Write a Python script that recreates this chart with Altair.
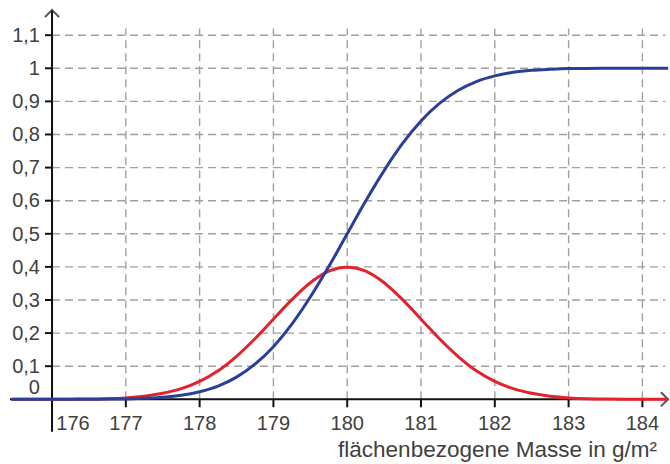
import altair as alt
import pandas as pd

# ---- data ----
x_vals = [175.45, 175.75, 176.0, 176.25, 176.5, 176.75, 177.0, 177.25, 177.5, 177.75,
          178.0, 178.25, 178.5, 178.75, 179.0, 179.25, 179.5, 179.75, 180.0,
          180.25, 180.5, 180.75, 181.0, 181.25, 181.5, 181.75, 182.0, 182.25,
          182.5, 182.75, 183.0, 183.25, 183.5, 183.75, 184.0, 184.35]
pdf_vals = [0.0, 0.0, 0.0001, 0.0004, 0.0009, 0.0017, 0.004, 0.009, 0.018, 0.032,
            0.054, 0.086, 0.130, 0.183, 0.242, 0.301, 0.352, 0.387, 0.399,
            0.387, 0.352, 0.301, 0.242, 0.183, 0.130, 0.086, 0.054, 0.032,
            0.018, 0.009, 0.004, 0.0017, 0.0009, 0.0004, 0.0001, 0.0]
cdf_vals = [0.0, 0.0, 0.0, 0.0, 0.0002, 0.0006, 0.001, 0.003, 0.006, 0.012,
            0.023, 0.040, 0.067, 0.106, 0.159, 0.227, 0.309, 0.401, 0.5,
            0.599, 0.691, 0.773, 0.841, 0.894, 0.933, 0.960, 0.977, 0.988,
            0.994, 0.997, 0.999, 0.9994, 0.9998, 0.9999, 1.0, 1.0]

x_ticks = [177, 178, 179, 180, 181, 182, 183, 184]
x_tick_labels = ["177", "178", "179", "180", "181", "182", "183", "184"]
y_ticks = [0.1, 0.2, 0.3, 0.4, 0.5, 0.6, 0.7, 0.8, 0.9, 1.0, 1.1]
y_tick_labels = ["0,1", "0,2", "0,3", "0,4", "0,5", "0,6", "0,7", "0,8", "0,9", "1", "1,1"]
x_title = "flächenbezogene Masse in g/m²"

# ---- layout constants ----
XMIN, XMAX = 175.295, 184.374
YMIN, YMAX = -0.1955, 1.2063
FONT = "Liberation Sans"
TXT = "#404040"
GRID = "#a0a0a0"

xs = alt.Scale(domain=[XMIN, XMAX], nice=False, zero=False)
ys = alt.Scale(domain=[YMIN, YMAX], nice=False, zero=False)

curves = pd.DataFrame({"x": x_vals, "pdf": pdf_vals, "cdf": cdf_vals})

vgrid = pd.DataFrame({"x": x_ticks, "y": 0.0, "y2": 1.12})
hgrid = pd.DataFrame({"y": y_ticks, "x": 176.0, "x2": 184.31})

base = alt.Chart(curves)

vg = alt.Chart(vgrid).mark_rule(color=GRID, strokeWidth=1.4, strokeDash=[8, 5]).encode(
    x=alt.X("x:Q", scale=xs, axis=None), y=alt.Y("y:Q", scale=ys, axis=None), y2="y2:Q")
hg = alt.Chart(hgrid).mark_rule(color=GRID, strokeWidth=1.4, strokeDash=[8, 5]).encode(
    y=alt.Y("y:Q", scale=ys, axis=None), x=alt.X("x:Q", scale=xs, axis=None), x2="x2:Q")

xaxis = alt.Chart(pd.DataFrame({"x": [175.43], "x2": [184.34], "y": [0.0]})).mark_rule(
    color="#111111", strokeWidth=2).encode(
    x=alt.X("x:Q", scale=xs, axis=None), x2="x2:Q", y=alt.Y("y:Q", scale=ys, axis=None))
yaxis = alt.Chart(pd.DataFrame({"x": [176.0], "y": [-0.098], "y2": [1.174]})).mark_rule(
    color="#111111", strokeWidth=2).encode(
    x=alt.X("x:Q", scale=xs, axis=None), y=alt.Y("y:Q", scale=ys, axis=None), y2="y2:Q")

xt = alt.Chart(pd.DataFrame({"x": x_ticks, "y": 0.0, "y2": -0.024})).mark_rule(
    color="#111111", strokeWidth=2).encode(
    x=alt.X("x:Q", scale=xs, axis=None), y=alt.Y("y:Q", scale=ys, axis=None), y2="y2:Q")
yt = alt.Chart(pd.DataFrame({"y": y_ticks, "x": 175.905, "x2": 176.0})).mark_rule(
    color="#111111", strokeWidth=2).encode(
    y=alt.Y("y:Q", scale=ys, axis=None), x=alt.X("x:Q", scale=xs, axis=None), x2="x2:Q")

arrow_up = alt.Chart(pd.DataFrame({"x": [176.0], "y": [1.176]})).mark_point(
    shape="M -1 1 L 0 0 L 1 1", filled=False, stroke="#111111", strokeWidth=2, size=200).encode(
    x=alt.X("x:Q", scale=xs, axis=None), y=alt.Y("y:Q", scale=ys, axis=None))
arrow_right = alt.Chart(pd.DataFrame({"x": [184.347], "y": [0.0]})).mark_point(
    shape="M -1 -1 L 0 0 L -1 1", filled=False, stroke="#111111", strokeWidth=2, size=200).encode(
    x=alt.X("x:Q", scale=xs, axis=None), y=alt.Y("y:Q", scale=ys, axis=None))

LBL = 20
xl_df = pd.DataFrame({"x": x_ticks, "t": x_tick_labels, "y": -0.0925})
xl = alt.Chart(xl_df).mark_text(font=FONT, fontSize=LBL, color=TXT, baseline="alphabetic",
                                align="center").encode(
    x=alt.X("x:Q", scale=xs, axis=None), y=alt.Y("y:Q", scale=ys, axis=None), text="t:N")
xl0 = alt.Chart(pd.DataFrame({"x": [176.285], "t": ["176"], "y": [-0.0925]})).mark_text(
    font=FONT, fontSize=LBL, color=TXT, baseline="alphabetic", align="center").encode(
    x=alt.X("x:Q", scale=xs, axis=None), y=alt.Y("y:Q", scale=ys, axis=None), text="t:N")

yl_df = pd.DataFrame({"y": y_ticks, "t": y_tick_labels, "x": 175.837})
yl = alt.Chart(yl_df).mark_text(font=FONT, fontSize=LBL, color=TXT, baseline="alphabetic",
                                align="right", dy=6.8).encode(
    x=alt.X("x:Q", scale=xs, axis=None), y=alt.Y("y:Q", scale=ys, axis=None), text="t:N")
yl0 = alt.Chart(pd.DataFrame({"y": [0.016], "t": ["0"], "x": [175.837]})).mark_text(
    font=FONT, fontSize=LBL, color=TXT, baseline="alphabetic", align="right").encode(
    x=alt.X("x:Q", scale=xs, axis=None), y=alt.Y("y:Q", scale=ys, axis=None), text="t:N")

title = alt.Chart(pd.DataFrame({"x": [184.198], "y": [-0.1734], "t": [x_title]})).mark_text(
    font=FONT, fontSize=22.5, color=TXT, baseline="alphabetic", align="right").encode(
    x=alt.X("x:Q", scale=xs, axis=None), y=alt.Y("y:Q", scale=ys, axis=None), text="t:N")

red = base.mark_line(color="#e3232b", strokeWidth=3, interpolate="monotone").encode(
    x=alt.X("x:Q", scale=xs, axis=None), y=alt.Y("pdf:Q", scale=ys, axis=None))
blue = base.mark_line(color="#2b3f98", strokeWidth=3, interpolate="monotone").encode(
    x=alt.X("x:Q", scale=xs, axis=None), y=alt.Y("cdf:Q", scale=ys, axis=None))

chart = alt.layer(vg, hg, xaxis, yaxis, xt, yt, arrow_up, arrow_right,
                  xl, xl0, yl, yl0, title, red, blue).properties(
    width=670, height=464, padding=0, autosize=alt.AutoSizeParams(type="none"),
    background="white"
).configure_view(stroke=None)

chart.save("out.html", embed_options={"renderer": "svg", "actions": False})
